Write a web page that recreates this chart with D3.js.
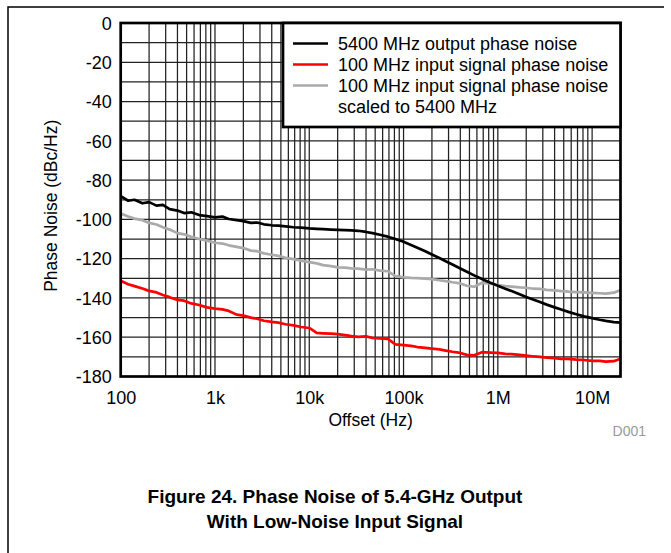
<!DOCTYPE html>
<html><head><meta charset="utf-8">
<script src="https://cdn.jsdelivr.net/npm/d3@7"></script>
<style>
html,body{margin:0;padding:0;background:#fff;}
svg{display:block;font-family:"Liberation Sans",Arial,Helvetica,sans-serif;}
</style></head>
<body>
<svg id="c" width="671" height="553"></svg>
<script>
const freqs = [
 100,120,140,170,200,240,280,330,400,470,560,680,820,
 1e3,1.2e3,1.4e3,1.7e3,2e3,2.4e3,2.8e3,3.3e3,4e3,4.7e3,5.6e3,6.8e3,8.2e3,
 1e4,1.2e4,1.4e4,1.7e4,2e4,2.4e4,2.8e4,3.3e4,4e4,4.7e4,5.6e4,6.8e4,8.2e4,
 1e5,1.2e5,1.4e5,1.7e5,2e5,2.4e5,2.8e5,3.3e5,4e5,4.7e5,5.6e5,6.8e5,8.2e5,
 1e6,1.2e6,1.4e6,1.7e6,2e6,2.4e6,2.8e6,3.3e6,4e6,4.7e6,5.6e6,6.8e6,8.2e6,
 1e7,1.2e7,1.4e7,1.7e7,2e7];
const outputNoise = [
 -88.2,-90.5,-90.0,-91.8,-91.2,-93.0,-92.6,-94.8,-95.5,-96.8,-96.4,-97.8,-98.3,
 -99.0,-98.6,-99.8,-100.4,-100.9,-101.8,-101.6,-102.5,-103.0,-103.2,-103.6,-104.0,-104.2,
 -104.6,-104.8,-105.0,-105.2,-105.3,-105.5,-105.6,-105.8,-106.4,-107.0,-107.8,-108.8,-110.0,
 -111.4,-113.0,-114.4,-116.2,-117.9,-119.7,-121.3,-123.0,-125.0,-126.7,-128.5,-130.4,-132.1,
 -133.8,-135.3,-136.5,-138.1,-139.5,-140.9,-142.1,-143.4,-144.8,-145.9,-147.1,-148.3,-149.4,
 -150.3,-151.1,-151.7,-152.3,-152.6];
const inputNoise = [
 -131.2,-133.0,-134.0,-135.2,-136.4,-137.2,-138.5,-139.6,-141.0,-141.4,-142.8,-143.6,-144.8,
 -145.4,-145.8,-146.6,-148.5,-149.0,-150.0,-150.6,-151.6,-152.2,-152.6,-153.4,-154.0,-154.8,
 -155.3,-157.8,-158.0,-158.2,-158.4,-158.9,-159.4,-159.8,-159.6,-160.4,-160.6,-160.8,-163.6,
 -164.0,-164.4,-165.0,-165.4,-165.8,-166.2,-166.8,-167.4,-168.0,-169.0,-169.2,-167.6,-167.8,
 -168.0,-168.5,-168.6,-169.0,-169.4,-169.8,-170.0,-170.4,-170.6,-171.0,-171.0,-171.4,-171.6,
 -172.0,-172.0,-172.4,-172.2,-171.0];
const scaledNoise = [
 -97.0,-98.5,-99.6,-100.4,-101.8,-102.6,-104.0,-105.2,-107.0,-107.6,-108.9,-110.0,-110.8,
 -111.9,-112.3,-113.2,-114.0,-114.6,-115.9,-116.2,-117.3,-118.0,-118.6,-119.6,-120.2,-121.0,
 -121.8,-122.4,-123.3,-123.8,-124.4,-124.6,-124.9,-125.1,-125.6,-125.4,-126.1,-126.4,-128.9,
 -129.5,-129.8,-129.9,-130.2,-130.4,-131.0,-131.4,-132.0,-132.6,-133.8,-134.3,-132.3,-132.6,
 -133.4,-134.0,-134.2,-134.6,-134.8,-135.3,-135.4,-135.9,-136.1,-136.5,-136.8,-137.0,-137.2,
 -137.4,-137.6,-137.8,-137.3,-136.0];
const xTickValues = [100,1e3,1e4,1e5,1e6,1e7];
const xTickLabels = ["100","1k","10k","100k","1M","10M"];
const yTickValues = [0,-20,-40,-60,-80,-100,-120,-140,-160,-180];
const seriesNames = ["5400 MHz output phase noise","100 MHz input signal phase noise","100 MHz input signal phase noise"];
const seriesColors = ["#000000","#ff0000","#aaaaaa"];

const svg = d3.select("#c");
const L=120.7, R=620.5, T=23, B=376.5;
const x = d3.scaleLog().domain([100,2e7]).range([L,R]);
const y = d3.scaleLinear().domain([-180,0]).range([B,T]);

// figure frame (top and left)
svg.append("path").attr("d","M8,553V7H664").attr("fill","none").attr("stroke","#000").attr("stroke-width",1.5);

// grid
const g = svg.append("g");
const vgrid = [];
for (let d=100; d<2e7; d*=10) for (let m=1;m<=9;m++){ const v=d*m; if(v>100 && v<2e7) vgrid.push(v); }
g.selectAll("line.v").data(vgrid).enter().append("line")
 .attr("x1",d=>x(d)).attr("x2",d=>x(d)).attr("y1",T).attr("y2",B)
 .attr("stroke","#222").attr("stroke-width",1.25);
const hgrid = d3.range(-170,0,10);
g.selectAll("line.h").data(hgrid).enter().append("line")
 .attr("x1",L).attr("x2",R).attr("y1",d=>y(d)).attr("y2",d=>y(d))
 .attr("stroke","#222").attr("stroke-width",1.25);

// curves
const line = d3.line().x(d=>x(d[0])).y(d=>y(d[1]));
const series = [outputNoise, inputNoise, scaledNoise];
const order = [1,2,0];
order.forEach(i=>{
  svg.append("path").datum(freqs.map((f,k)=>[f,series[i][k]]))
    .attr("d",line).attr("fill","none").attr("stroke",seriesColors[i])
    .attr("stroke-width",2.7).attr("stroke-linejoin","round");
});

// plot frame
svg.append("rect").attr("x",L).attr("y",T).attr("width",R-L).attr("height",B-T)
 .attr("fill","none").attr("stroke","#000").attr("stroke-width",2.7);

// axes
const xAxis = d3.axisBottom(x).tickValues(xTickValues).tickFormat((d,i)=>xTickLabels[i]).tickSize(0).tickPadding(0);
const xa = svg.append("g").attr("transform",`translate(0,${B})`).call(xAxis);
xa.select(".domain").remove();
xa.selectAll("text").attr("font-size",18).attr("fill","#000").attr("dy",null).attr("y",27);

const yAxis = d3.axisLeft(y).tickValues(yTickValues).tickFormat(d=>String(d)).tickSize(0).tickPadding(0);
const ya = svg.append("g").attr("transform",`translate(${L-9},0)`).call(yAxis);
ya.select(".domain").remove();
ya.selectAll("text").attr("font-size",18).attr("fill","#000").attr("dy","0.35em").attr("x",0);

// axis titles
svg.append("text").attr("x",(L+R)/2).attr("y",426).attr("text-anchor","middle")
 .attr("font-size",17.5).text("Offset (Hz)");
svg.append("text").attr("transform",`translate(57,${(T+B)/2+6}) rotate(-90)`).attr("text-anchor","middle")
 .attr("font-size",17.5).text("Phase Noise (dBc/Hz)");
svg.append("text").attr("x",646).attr("y",436).attr("text-anchor","end")
 .attr("font-size",14).attr("fill","#999").text("D001");

// legend
const lg = svg.append("g");
lg.append("rect").attr("x",283).attr("y",T).attr("width",R-283).attr("height",104)
 .attr("fill","#fff").attr("stroke","#000").attr("stroke-width",2.7);
const ly = [43.5,64.5,85.5];
seriesNames.forEach((n,i)=>{
  lg.append("line").attr("x1",293).attr("x2",328).attr("y1",ly[i]).attr("y2",ly[i])
    .attr("stroke",seriesColors[i]).attr("stroke-width",2.7);
  lg.append("text").attr("x",338).attr("y",ly[i]+6.5).attr("font-size",18).text(n);
});
lg.append("text").attr("x",338).attr("y",ly[2]+27.5).attr("font-size",18).text("scaled to 5400 MHz");

// caption
svg.append("text").attr("x",335).attr("y",503).attr("text-anchor","middle")
 .attr("font-size",19).attr("font-weight","bold").text("Figure 24. Phase Noise of 5.4-GHz Output");
svg.append("text").attr("x",335).attr("y",528).attr("text-anchor","middle")
 .attr("font-size",19).attr("font-weight","bold").text("With Low-Noise Input Signal");
</script>
</body></html>
